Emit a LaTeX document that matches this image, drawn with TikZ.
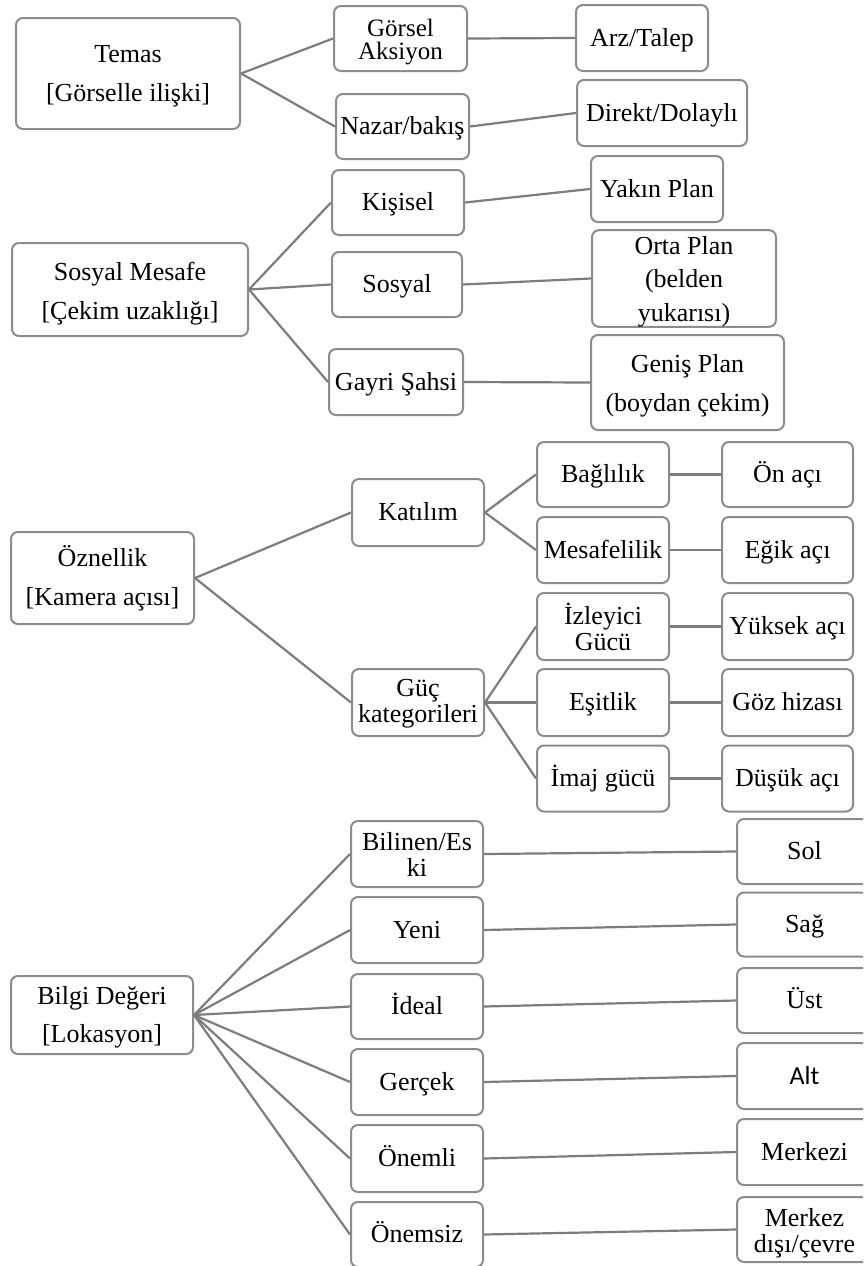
\documentclass[tikz,border=0pt]{standalone}
\usepackage{fontspec}
\setmainfont{Liberation Serif}
\newfontfamily\altfont{Carlito}
\definecolor{boxgray}{RGB}{140,140,140}
\definecolor{linegray}{RGB}{125,125,125}
\newcommand\lowr[1]{\rule{0pt}{#1pt}}
\tikzset{
  box/.style={draw=boxgray, line width=2pt, rounded corners=7pt, fill=white,
    inner sep=0pt, align=center, font=\fontsize{26}{26}\selectfont},
  one/.style={text height=21pt, text depth=5pt},
  wide/.style={font=\fontsize{26}{39}\selectfont},
  wider/.style={font=\fontsize{26}{38}\selectfont},
  mid/.style={font=\fontsize{26}{33.5}\selectfont},
  small/.style={font=\fontsize{25}{23}\selectfont},
  conn/.style={draw=linegray, line width=2.2pt},
}
\begin{document}
\begin{tikzpicture}[x=1pt,y=-1pt]
\useasboundingbox (0,0) rectangle (863,1266);
\fill[white] (0,0) rectangle (863,1266);
\clip (0,0) rectangle (863,1266);
% ---- Temas
\node[box,wide,minimum width=224pt,minimum height=111pt] (temas) at (128,73.5) {\lowr{23}Temas\\{[}Görselle ilişki{]}};
\node[box,small,minimum width=133pt,minimum height=65pt] (gorsel) at (400.5,38.5) {\lowr{23.5}Görsel\\Aksiyon};
\node[box,one,minimum width=133pt,minimum height=65pt] (nazar) at (402.5,126.5) {Nazar/bakış};
\node[box,one,minimum width=132pt,minimum height=66pt] (arz) at (642,38) {Arz/Talep};
\node[box,one,minimum width=170pt,minimum height=66pt] (direkt) at (662,113) {Direkt/Dolaylı};
% ---- Sosyal Mesafe
\node[box,wide,minimum width=236pt,minimum height=93pt] (sosmes) at (130,289.5) {\lowr{25.8}Sosyal Mesafe\\{[}Çekim uzaklığı{]}};
\node[box,one,minimum width=132pt,minimum height=65pt] (kisisel) at (398,202.5) {Kişisel};
\node[box,one,minimum width=130pt,minimum height=65pt] (sosyal) at (397,284.5) {Sosyal};
\node[box,one,minimum width=134pt,minimum height=66pt] (gayri) at (396,382) {Gayri Şahsi};
\node[box,one,minimum width=132pt,minimum height=66pt] (yakin) at (657,189) {Yakın Plan};
\node[box,mid,minimum width=184pt,minimum height=93pt] (orta) at (684,278.5) {\lowr{24}Orta Plan\\(belden\\yukarısı)};
\node[box,wide,minimum width=193pt,minimum height=95pt] (genis) at (687.5,382.5) {\lowr{25}Geniş Plan\\(boydan çekim)};
% ---- Öznellik
\node[box,wide,minimum width=183pt,minimum height=92pt] (ozn) at (102.5,578) {Öznellik\\{[}Kamera açısı{]}};
\node[box,one,minimum width=132pt,minimum height=67pt] (katilim) at (418,512.5) {Katılım};
\node[box,minimum width=132pt,minimum height=67pt] (guc) at (418,702.5) {\lowr{20}Güç\\kategorileri};
\node[box,one,minimum width=132pt,minimum height=65pt] (bag) at (603,474.5) {Bağlılık};
\node[box,one,minimum width=132pt,minimum height=66pt] (mesaf) at (603,550) {Mesafelilik};
\node[box,minimum width=132pt,minimum height=67pt] (izl) at (603,626.5) {İzleyici\\Gücü};
\node[box,one,minimum width=132pt,minimum height=67pt] (esit) at (603,702.5) {Eşitlik};
\node[box,one,minimum width=132pt,minimum height=66pt] (imaj) at (603,778.5) {İmaj gücü};
\node[box,one,minimum width=131pt,minimum height=65pt] (on) at (787.5,474.5) {Ön açı};
\node[box,one,minimum width=131pt,minimum height=66pt] (egik) at (787.5,550) {Eğik açı};
\node[box,one,minimum width=131pt,minimum height=67pt] (yuksek) at (787.5,626.5) {Yüksek açı};
\node[box,one,minimum width=131pt,minimum height=67pt] (goz) at (787.5,702.5) {Göz hizası};
\node[box,one,minimum width=131pt,minimum height=66pt] (dusuk) at (787.5,778.5) {Düşük açı};
% ---- Bilgi Değeri
\node[box,wider,minimum width=182pt,minimum height=78pt] (bilgi) at (102,1015) {\lowr{22}Bilgi Değeri\\{[}Lokasyon{]}};
\node[box,minimum width=132pt,minimum height=66pt] (bilinen) at (417,854) {Bilinen/Es\\ki};
\node[box,one,minimum width=132pt,minimum height=66pt] (yeni) at (417,930) {Yeni};
\node[box,one,minimum width=132pt,minimum height=65pt] (ideal) at (417,1006.5) {İdeal};
\node[box,one,minimum width=132pt,minimum height=66pt] (gercek) at (417,1082) {Gerçek};
\node[box,one,minimum width=132pt,minimum height=67pt] (onemli) at (417,1158.5) {Önemli};
\node[box,one,minimum width=132pt,minimum height=65pt] (onemsiz) at (417,1234.5) {Önemsiz};
\node[box,one,minimum width=135pt,minimum height=65pt] (sol) at (804.5,851.5) {Sol};
\node[box,one,minimum width=135pt,minimum height=64pt] (sag) at (804.5,924.5) {Sağ};
\node[box,one,minimum width=135pt,minimum height=65pt] (ust) at (804.5,1000.5) {Üst};
\node[box,one,minimum width=135pt,minimum height=66pt] (alt) at (804.5,1076) {\altfont Alt};
\node[box,one,minimum width=135pt,minimum height=66pt] (merkezi) at (804.5,1152) {Merkezi};
\node[box,minimum width=135pt,minimum height=65pt] (merkezd) at (804.5,1229.5) {\lowr{25.8}Merkez\\dışı/çevre};
% ---- connectors
\draw[conn] (temas.east) -- (gorsel.west);
\draw[conn] (temas.east) -- (nazar.west);
\draw[conn] (gorsel.east) -- (arz.west);
\draw[conn] (nazar.east) -- (direkt.west);
\draw[conn] (sosmes.east) -- (kisisel.west);
\draw[conn] (sosmes.east) -- (sosyal.west);
\draw[conn] (sosmes.east) -- (gayri.west);
\draw[conn] (kisisel.east) -- (yakin.west);
\draw[conn] (sosyal.east) -- (orta.west);
\draw[conn] (gayri.east) -- (genis.west);
\draw[conn] (ozn.east) -- (katilim.west);
\draw[conn] (ozn.east) -- (guc.west);
\draw[conn] (katilim.east) -- (bag.west);
\draw[conn] (katilim.east) -- (mesaf.west);
\draw[conn] (guc.east) -- (izl.west);
\draw[conn] (guc.east) -- (esit.west);
\draw[conn] (guc.east) -- (imaj.west);
\draw[conn] (bag.east) -- (on.west);
\draw[conn] (mesaf.east) -- (egik.west);
\draw[conn] (izl.east) -- (yuksek.west);
\draw[conn] (esit.east) -- (goz.west);
\draw[conn] (imaj.east) -- (dusuk.west);
\draw[conn] (bilgi.east) -- (bilinen.west);
\draw[conn] (bilgi.east) -- (yeni.west);
\draw[conn] (bilgi.east) -- (ideal.west);
\draw[conn] (bilgi.east) -- (gercek.west);
\draw[conn] (bilgi.east) -- (onemli.west);
\draw[conn] (bilgi.east) -- (onemsiz.west);
\draw[conn] (bilinen.east) -- (sol.west);
\draw[conn] (yeni.east) -- (sag.west);
\draw[conn] (ideal.east) -- (ust.west);
\draw[conn] (gercek.east) -- (alt.west);
\draw[conn] (onemli.east) -- (merkezi.west);
\draw[conn] (onemsiz.east) -- (merkezd.west);
\end{tikzpicture}
\end{document}
